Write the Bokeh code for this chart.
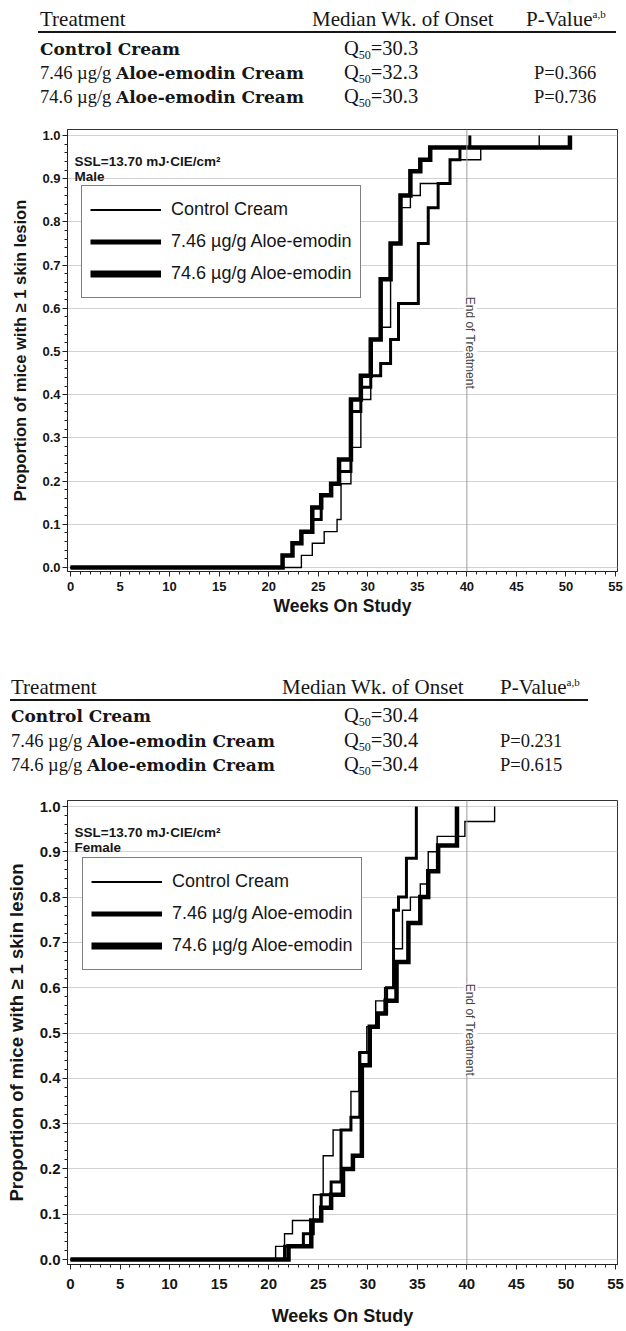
import math
from bokeh.plotting import figure
from bokeh.layouts import column
from bokeh.models import (Range1d, Legend, LegendItem, Span, Label, FixedTicker,
                          NumeralTickFormatter, Div)
from bokeh.embed import file_html
from bokeh.resources import INLINE

# ---------------- data ----------------
dose_prefix = ["", "7.46 µg/g ", "74.6 µg/g "]
dose_bold = ["Control Cream", "Aloe-emodin Cream", "Aloe-emodin Cream"]
legend_labels = ["Control Cream", "7.46 µg/g Aloe-emodin", "74.6 µg/g Aloe-emodin"]
header_labels = ["Treatment", "Median Wk. of Onset", "P-Value"]

male_q50 = ["30.3", "32.3", "30.3"]
male_pval = ["", "0.366", "0.736"]
female_q50 = ["30.4", "30.4", "30.4"]
female_pval = ["", "0.231", "0.615"]

# Male  (SSL=13.70 mJ·CIE/cm²)
male_ctrl_wk = [0, 23.3, 24.4, 25.6, 26.9, 27.3, 28.3, 29.3, 30.3, 31.3, 32.3, 33.3, 34.3, 35.3, 38.3, 41.4, 47.3]
male_ctrl_p = [0, .028, .056, .083, .111, .194, .278, .389, .528, .556, .75, .833, .861, .889, .944, .972, 1.0]
male_low_wk = [0, 21.4, 22.4, 23.3, 24.4, 25.3, 26.3, 27.1, 28.3, 29.3, 30.3, 31.3, 32.3, 33.1, 35.1, 36.1, 37.1, 38.3, 39.3, 40.3]
male_low_p = [0, .028, .056, .083, .111, .167, .194, .222, .361, .417, .444, .472, .528, .611, .75, .833, .889, .944, .972, 1.0]
male_high_wk = [0, 21.4, 22.4, 23.3, 24.4, 25.3, 26.3, 27.1, 28.3, 29.3, 30.3, 31.3, 32.3, 33.3, 34.3, 35.3, 36.3, 50.4]
male_high_p = [0, .028, .056, .083, .139, .167, .194, .25, .389, .444, .528, .667, .75, .861, .917, .944, .972, 1.0]

# Female
fem_ctrl_wk = [0, 20.7, 21.6, 22.4, 24.5, 25.5, 26.5, 28.3, 29.1, 29.9, 30.8, 31.7, 32.6, 33.5, 34.3, 35.3, 36.1, 37.0, 39.8, 42.8]
fem_ctrl_p = [0, .029, .057, .086, .143, .229, .286, .371, .457, .514, .571, .6, .686, .771, .8, .829, .9, .934, .967, 1.0]
fem_low_wk = [0, 21.6, 23.5, 24.5, 25.3, 26.3, 27.3, 28.3, 29.2, 30.2, 31.0, 31.9, 32.6, 33.1, 33.9, 34.9]
fem_low_p = [0, .029, .057, .086, .143, .171, .286, .314, .457, .514, .543, .6, .771, .8, .886, 1.0]
fem_high_wk = [0, 22.0, 24.3, 25.3, 26.3, 27.5, 28.5, 29.4, 30.2, 31.0, 31.8, 32.9, 34.1, 35.3, 36.1, 37.1, 39.0]
fem_high_p = [0, .029, .086, .114, .143, .2, .229, .429, .514, .543, .571, .657, .743, .8, .857, .914, 1.0]

x_ticks = [0, 5, 10, 15, 20, 25, 30, 35, 40, 45, 50, 55]
y_ticks = [0.0, 0.1, 0.2, 0.3, 0.4, 0.5, 0.6, 0.7, 0.8, 0.9, 1.0]
end_of_treatment_wk = 40

INK = "#161616"
W = 626
BL, BR = 67, 9          # left / right border (px)
XLO, XHI = -0.303, 55.2


def make_table(height, t):
    """Summary table as real HTML text (absolutely positioned spans)."""
    def span(x, baseline, html, size, family="Liberation Serif", weight="normal"):
        top = baseline - 0.84 * size
        return (f'<span style="position:absolute;left:{x}px;top:{top:.1f}px;'
                f"font-family:'{family}';font-size:{size}px;font-weight:{weight};"
                f'line-height:1;white-space:nowrap;color:{INK}">{html}</span>')

    parts = []
    hy = t["hdr_y"]
    parts.append(span(t["left"], hy, header_labels[0], 21))
    parts.append(span(t["median_x"], hy, header_labels[1], 21))
    parts.append(span(t["pvh_x"], hy, header_labels[2] +
                      '<span style="font-size:11px;vertical-align:8px">a,b</span>', 21))
    x0, x1 = t["ul"]
    parts.append(f'<div style="position:absolute;left:{x0}px;top:{t["ul_y"] - 1}px;'
                 f'width:{x1 - x0}px;height:2px;background:{INK}"></div>')
    bold_css = "font-family:'DejaVu Serif';font-weight:bold;font-size:17px"
    for i, ry in enumerate(t["rows"]):
        html = (f'{dose_prefix[i]}<span style="{bold_css}">{dose_bold[i]}</span>')
        parts.append(span(t["left"], ry, html, 18.5))
        q = ('Q<span style="font-size:12px;vertical-align:-4px">50</span>=' + t["q50"][i])
        parts.append(span(t["q_x"], ry, q, 20.5))
        if t["pval"][i]:
            parts.append(span(t["p_x"], ry, "P=" + t["pval"][i], 18.5))
    html = (f'<div style="position:relative;width:{W}px;height:{height}px;'
            f'background:white;overflow:hidden">' + "".join(parts) + "</div>")
    return Div(text=html, width=W, height=height, margin=(0, 0, 0, 0))


def make_chart(height, btop, bbot, ylo, yhi, curves, sex, tick_px, title_px,
               ylab_px, legend_loc, eot_y, tick_standoff, title_standoff):
    p = figure(width=W, height=height, x_range=Range1d(XLO, XHI), y_range=Range1d(ylo, yhi),
               toolbar_location=None, output_backend="svg",
               min_border_left=BL, min_border_right=BR, min_border_top=btop, min_border_bottom=bbot)
    frame_h = height - btop - bbot
    ppu = frame_h / (yhi - ylo)

    p.outline_line_color = "#333333"
    p.outline_line_width = 1
    p.xgrid.grid_line_color = None
    p.ygrid.grid_line_color = "#d2d2d2"
    p.ygrid.grid_line_width = 1

    p.xaxis.ticker = FixedTicker(ticks=x_ticks, minor_ticks=list(range(0, 56)))
    p.yaxis.ticker = FixedTicker(ticks=y_ticks, minor_ticks=[round(i * 0.02, 2) for i in range(51)])
    p.yaxis.formatter = NumeralTickFormatter(format="0.0")
    p.xaxis.axis_label = "Weeks On Study"
    p.yaxis.axis_label = "Proportion of mice with \u2265 1 skin lesion"
    for ax in (p.xaxis[0], p.yaxis[0]):
        ax.axis_line_color = "#222222"
        ax.major_tick_line_color = "#222222"
        ax.minor_tick_line_color = "#222222"
        ax.major_tick_out = 5
        ax.major_tick_in = 0
        ax.minor_tick_out = 3
        ax.minor_tick_in = 0
        ax.major_label_text_font = "Liberation Sans"
        ax.major_label_text_font_style = "bold"
        ax.major_label_text_font_size = f"{tick_px}px"
        ax.major_label_text_color = INK
        ax.axis_label_text_font = "Liberation Sans"
        ax.axis_label_text_font_style = "bold"
        ax.axis_label_text_color = INK
    p.xaxis.axis_label_text_font_size = f"{title_px}px"
    p.yaxis.axis_label_text_font_size = f"{ylab_px}px"
    p.xaxis.major_label_standoff = tick_standoff
    p.xaxis.axis_label_standoff = title_standoff
    p.yaxis.major_label_standoff = 2
    p.yaxis.axis_label_standoff = 10

    # End of treatment reference line
    p.add_layout(Span(location=end_of_treatment_wk, dimension="height",
                      line_color="#9a9a9a", line_width=1))
    p.add_layout(Label(x=end_of_treatment_wk + 0.35, y=eot_y, text="End of Treatment",
                       angle=-math.pi / 2, text_align="center", text_baseline="middle",
                       text_font="Liberation Sans", text_font_size="12px", text_color="#444444",
                       background_fill_color="white"))

    # Kaplan-Meier style step curves: thick first, thin last
    for wk, pr, lw in curves:
        p.step(x=wk, y=pr, mode="after", line_width=lw, line_color="black", line_join="miter")

    # SSL / sex labels (offsets from the frame top, in px)
    for off, txt in ((32, "SSL=13.70 mJ\u00b7CIE/cm\u00b2"), (47, sex)):
        p.add_layout(Label(x=XLO + 7 * (XHI - XLO) / (W - BL - BR), y=yhi - off / ppu, text=txt,
                           text_font="Liberation Sans", text_font_style="bold",
                           text_font_size="13.5px", text_baseline="alphabetic", text_color=INK))

    # legend using dedicated renderers (NaN data, nothing drawn in the plot)
    items = []
    for labl, lw in zip(legend_labels, [2, 5, 7]):
        r = p.line(x=[float("nan")], y=[float("nan")], line_width=lw, line_color="black")
        items.append(LegendItem(label=labl, renderers=[r]))
    leg = Legend(items=items, location=legend_loc, glyph_width=71, glyph_height=31,
                 label_height=31, label_standoff=10, spacing=1, padding=8, margin=0,
                 label_text_font="Liberation Sans", label_text_font_size="18px",
                 label_text_color=INK, border_line_color="black", border_line_width=1,
                 background_fill_color="white", background_fill_alpha=1.0)
    p.add_layout(leg)
    return p


male_curves = [(male_high_wk, male_high_p, 4.5), (male_low_wk, male_low_p, 3.0),
               (male_ctrl_wk, male_ctrl_p, 1.4)]
fem_curves = [(fem_high_wk, fem_high_p, 4.5), (fem_low_wk, fem_low_p, 3.0),
              (fem_ctrl_wk, fem_ctrl_p, 1.4)]

# table positions are relative to each table block's top-left corner
table_male = dict(left=40, median_x=312, q_x=344, pvh_x=526, p_x=534, ul=(38, 616),
                  hdr_y=27, ul_y=32, rows=[55, 79, 103], q50=male_q50, pval=male_pval)
table_fem = dict(left=11, median_x=282, q_x=344, pvh_x=500, p_x=500, ul=(10, 588),
                 hdr_y=63, ul_y=68, rows=[90, 115, 139], q50=female_q50, pval=female_pval)

t1 = make_table(115, table_male)
c1 = make_chart(517, 14, 61, -4 / 432, 1 + 6 / 432, male_curves, "Male", 13, 17.5, 16.5,
                (14, 273), 0.52, 5, 2)
t2 = make_table(158, table_fem)
c2 = make_chart(541, 10, 67, -5 / 453, 1 + 6 / 453, fem_curves, "Female", 15, 18, 18.5,
                (15, 294), 0.507, 9, 14)

layout = column(t1, c1, t2, c2, spacing=0)
open("out.html", "w").write(file_html(layout, INLINE))
